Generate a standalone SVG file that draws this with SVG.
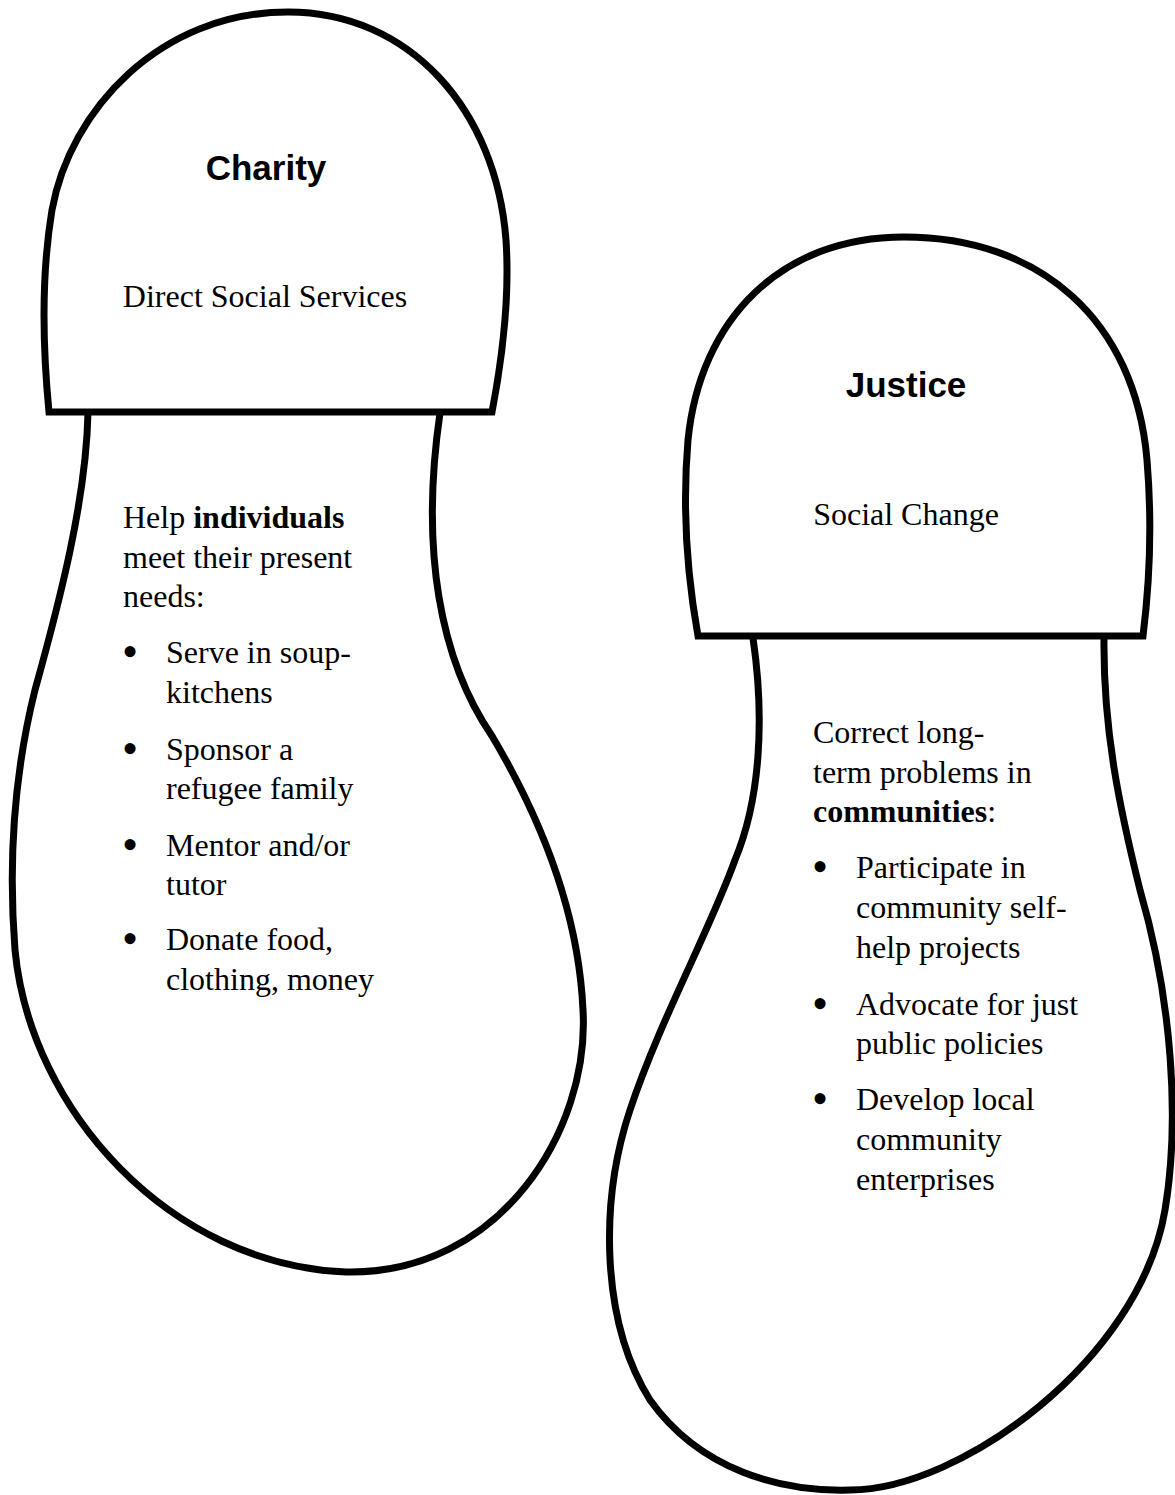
<svg xmlns="http://www.w3.org/2000/svg" width="1175" height="1495" viewBox="0 0 1175 1495">
<style>
.outline{fill:#fff;stroke:#000;stroke-width:7;stroke-linejoin:miter}
.title{font-family:"Liberation Sans",Arial,sans-serif;font-weight:bold;font-size:35px;fill:#000;text-anchor:middle}
.body{font-family:"Liberation Serif","Times New Roman",serif;font-size:32px;fill:#000}
.bul{font-family:"Liberation Serif","Times New Roman",serif;font-size:46px;fill:#000}
.mid{text-anchor:middle}
.b{font-weight:bold}
</style>
<rect width="1175" height="1495" fill="#fff"/>
<g id="charity">
<path class="outline" d="M88,413 C86,500 60,600 35,690 C15,770 8,860 15,950 C30,1110 170,1265 346,1272 C500,1275 590,1130 583,1010 C578,900 530,800 492,736 C440,660 420,550 440,413"/>
<path class="outline" d="M49,412 L492,412 C502,360 510,300 506,240 C496,110 410,12 288,12 C160,12 70,110 52,210 C42,270 42,340 49,412 Z"/>
<text class="title" x="266" y="180">Charity</text>
<text class="body mid" x="265" y="307">Direct Social Services</text>
<text class="body" x="123" y="528">Help <tspan class="b">individuals</tspan></text>
<text class="body" x="123" y="568">meet their present</text>
<text class="body" x="123" y="607">needs:</text>
<text class="bul" x="122" y="667">•</text>
<text class="body" x="166" y="663">Serve in soup-</text>
<text class="body" x="166" y="703">kitchens</text>
<text class="bul" x="122" y="764">•</text>
<text class="body" x="166" y="760">Sponsor a</text>
<text class="body" x="166" y="799">refugee family</text>
<text class="bul" x="122" y="860">•</text>
<text class="body" x="166" y="856">Mentor and/or</text>
<text class="body" x="166" y="895">tutor</text>
<text class="bul" x="122" y="954">•</text>
<text class="body" x="166" y="950">Donate food,</text>
<text class="body" x="166" y="990">clothing, money</text>
</g>
<g id="justice">
<path class="outline" d="M753,638 C765,720 760,800 735,860 C710,930 660,1020 630,1110 C600,1200 600,1320 650,1400 C700,1470 780,1492 850,1490 C960,1490 1140,1360 1165,1210 C1180,1120 1172,1000 1140,890 C1120,810 1103,730 1104,638"/>
<path class="outline" d="M698,636 L1143,636 C1150,580 1152,520 1147,460 C1135,320 1040,237 904,237 C780,237 700,320 688,440 C682,510 688,580 698,636 Z"/>
<text class="title" x="906" y="397">Justice</text>
<text class="body mid" x="906" y="525">Social Change</text>
<text class="body" x="813" y="743">Correct long-</text>
<text class="body" x="813" y="783">term problems in</text>
<text class="body" x="813" y="822"><tspan class="b">communities</tspan>:</text>
<text class="bul" x="812" y="882">•</text>
<text class="body" x="856" y="878">Participate in</text>
<text class="body" x="856" y="918">community self-</text>
<text class="body" x="856" y="958">help projects</text>
<text class="bul" x="812" y="1019">•</text>
<text class="body" x="856" y="1015">Advocate for just</text>
<text class="body" x="856" y="1054">public policies</text>
<text class="bul" x="812" y="1114">•</text>
<text class="body" x="856" y="1110">Develop local</text>
<text class="body" x="856" y="1150">community</text>
<text class="body" x="856" y="1190">enterprises</text>
</g>
<g id="connectors"/>
</svg>
